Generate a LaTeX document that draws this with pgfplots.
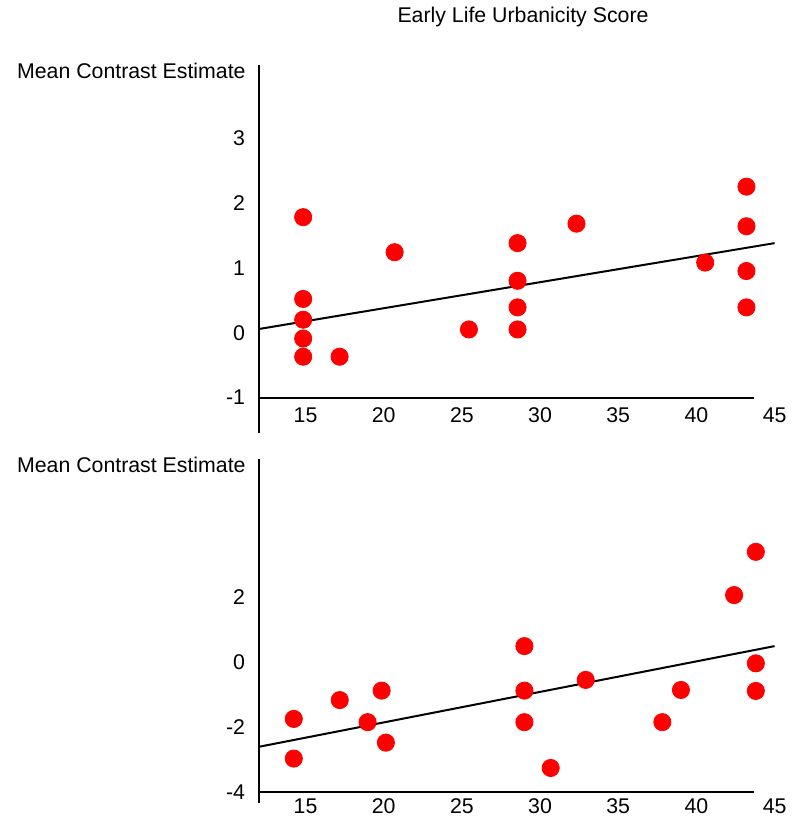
\documentclass[border=0pt]{standalone}
\usepackage{fontspec}
\setmainfont{Liberation Sans}
\usepackage{pgfplots}
\pgfplotsset{compat=1.18}
\begin{document}
\begin{tikzpicture}[font=\fontsize{10.65}{12.8}\selectfont]
\useasboundingbox (0pt,0pt) rectangle (399pt,-409pt);
\node[anchor=base, inner sep=0pt] at (261.5pt,-11.5pt) {Early Life Urbanicity Score};
\node[anchor=base east, inner sep=0pt] at (123pt,-39.25pt) {Mean Contrast Estimate};
\node[anchor=base east, inner sep=0pt] at (123pt,-236pt) {Mean Contrast Estimate};
\pgfplotsset{myax/.style={anchor=south west, scale only axis, width=258pt,
  xmin=12, xmax=45, axis line style={draw=none}, major tick length=0pt,
  xtick={15,20,...,45}, xticklabels={15,20,25,30,35,40,45},
  yticklabel style={xshift=-3.25pt}, clip=false,
  tick label style={font=\fontsize{10.65}{12.8}\selectfont}}}
\begin{axis}[myax, at={(129.3pt,-198.8pt)}, height=166.15pt, ymin=-1, ymax=4.12,
  ytick={-1,0,1,2,3}, yticklabels={-1,0,1,2,3},
  xticklabel style={inner ysep=0.5pt, yshift=-4.55pt}]
\draw[line width=1pt] (axis cs:12,-1.55) -- (axis cs:12,4.12);
\draw[line width=1pt] (axis cs:12,-1) -- (axis cs:43.7,-1);
\addplot[black, line width=1pt] coordinates {(12,0.056) (45,1.38)};
\addplot[only marks, mark=*, mark size=4.3pt, red, mark options={fill=red, draw=red}] coordinates {
(14.85,1.78) (14.85,0.52) (14.85,0.20) (14.85,-0.09) (14.85,-0.37)
(17.18,-0.37) (20.70,1.24) (25.45,0.05)
(28.56,1.38) (28.56,0.80) (28.56,0.39) (28.56,0.05)
(32.33,1.68) (40.56,1.08)
(43.20,2.25) (43.20,1.64) (43.20,0.95) (43.20,0.39)};
\end{axis}
\begin{axis}[myax, at={(129.3pt,-395.85pt)}, height=166.25pt, ymin=-4, ymax=6.23,
  ytick={-4,-2,0,2}, yticklabels={-4,-2,0,2},
  xticklabel style={inner ysep=0.5pt, yshift=-3pt}]
\draw[line width=1pt] (axis cs:12,-4.36) -- (axis cs:12,6.23);
\draw[line width=1pt] (axis cs:12,-4) -- (axis cs:43.7,-4);
\addplot[black, line width=1pt] coordinates {(12,-2.62) (45,0.48)};
\addplot[only marks, mark=*, mark size=4.3pt, red, mark options={fill=red, draw=red}] coordinates {
(14.25,-1.76) (14.25,-2.98) (17.19,-1.18) (18.97,-1.86) (19.87,-0.89) (20.14,-2.49)
(29.00,0.48) (29.00,-0.89) (29.00,-1.86) (30.68,-3.27) (32.92,-0.56)
(37.82,-1.86) (39.01,-0.87) (42.41,2.05) (43.80,3.38) (43.80,-0.05) (43.80,-0.90)};
\end{axis}
\end{tikzpicture}
\end{document}
